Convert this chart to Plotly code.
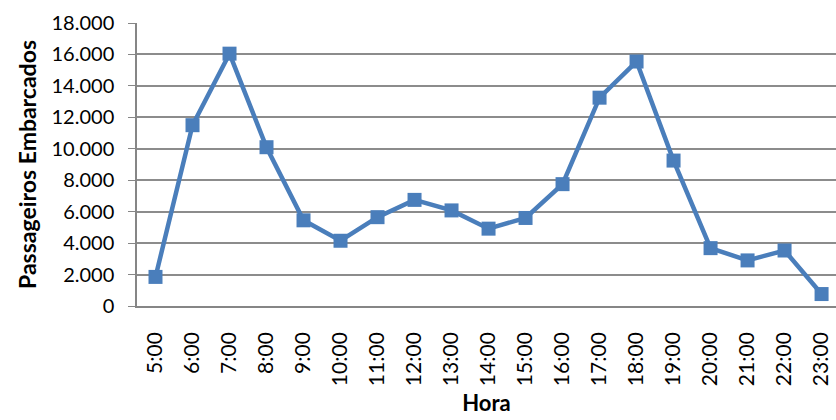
import plotly.graph_objects as go

# passageiros embarcados por hora
horas = ["5:00", "6:00", "7:00", "8:00", "9:00", "10:00", "11:00", "12:00", "13:00",
         "14:00", "15:00", "16:00", "17:00", "18:00", "19:00", "20:00", "21:00",
         "22:00", "23:00"]
passageiros = [1850, 11500, 16050, 10100, 5450, 4150, 5650, 6750, 6080,
               4920, 5600, 7750, 13250, 15550, 9250, 3680, 2900, 3530, 760]
y_ticks = [0, 2000, 4000, 6000, 8000, 10000, 12000, 14000, 16000, 18000]

fig = go.Figure(go.Scatter(
    x=horas, y=passageiros, mode="lines+markers",
    line=dict(color="#4A7EBB", width=4.5),
    marker=dict(symbol="square", size=14, color="#4A7EBB"),
))

fig.update_layout(
    width=836, height=420,
    margin=dict(l=137, r=0, t=23, b=114),
    plot_bgcolor="white", paper_bgcolor="white",
    separators=",.",
    showlegend=False,
    font=dict(family="Lato", color="black"),
)
fig.update_xaxes(
    range=[-0.5, 18.39], tickangle=-90, tickfont=dict(size=21),
    ticklabelstandoff=16,
    showgrid=False, showline=True, linecolor="#868686", linewidth=1.5,
    title=dict(text="<b>Hora</b>", font=dict(size=22), standoff=10),
)
fig.update_yaxes(
    range=[0, 18000], tickvals=y_ticks, tickformat=",d", tickfont=dict(size=20),
    ticklabelstandoff=10,
    showgrid=True, gridcolor="#8C8C8C", gridwidth=1.5,
    showline=True, linecolor="#868686", linewidth=1.5,
    ticks="outside", ticklen=7, tickcolor="#868686",
    zeroline=False,
    title=dict(text="<b>Passageiros Embarcados</b>", font=dict(size=23), standoff=8),
)

fig.write_html("out.html", config={"displayModeBar": False},
               post_script="document.body.style.margin='0';")
